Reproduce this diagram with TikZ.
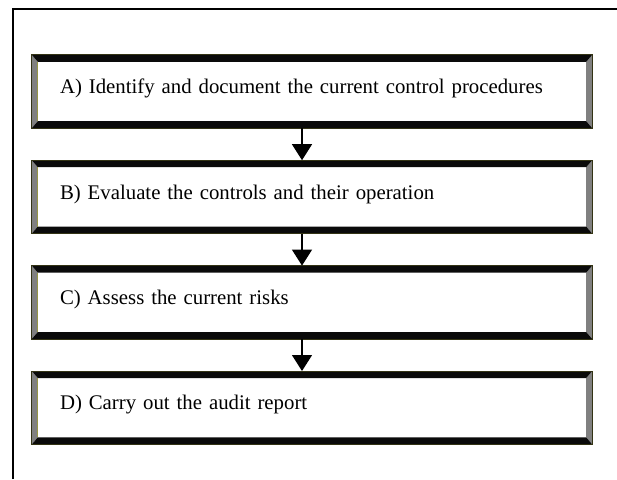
\documentclass[tikz,border=0pt]{standalone}
\usepackage{fontspec}
\setmainfont{Liberation Serif}
\usetikzlibrary{positioning}
\usetikzlibrary{arrows.meta}

\definecolor{bevelgray}{RGB}{128,128,128}
\definecolor{bevelblack}{RGB}{10,10,10}
\definecolor{oliveedge}{RGB}{51,51,20}
\definecolor{oliveline}{RGB}{150,150,70}

\newcommand{\bevelframe}[1]{%
 \fill[bevelgray] (#1.north west) -- ([shift={(6,-7)}]#1.north west) -- ([shift={(6,7)}]#1.south west) -- (#1.south west) -- cycle;
 \fill[bevelgray] (#1.north east) -- ([shift={(-6,-7)}]#1.north east) -- ([shift={(-6,7)}]#1.south east) -- (#1.south east) -- cycle;
 \fill[bevelblack] (#1.north west) -- (#1.north east) -- ([shift={(-6,-7)}]#1.north east) -- ([shift={(6,-7)}]#1.north west) -- cycle;
 \fill[bevelblack] (#1.south west) -- (#1.south east) -- ([shift={(-6,7)}]#1.south east) -- ([shift={(6,7)}]#1.south west) -- cycle;
 \draw[oliveline, line width=1.2] ([shift={(6,-7)}]#1.north west) -- ([shift={(6,7)}]#1.south west);
 \draw[oliveedge, line width=1] (#1.north west) rectangle (#1.south east);
}

\begin{document}
\begin{tikzpicture} [x=1pt, y=1pt, node distance=32pt]
\tikzset{
 stepbox/.style={minimum height=73pt, text width=504pt, inner xsep=28pt, inner ysep=0pt,
   text depth=10pt, align=left, font=\fontsize{20.8}{24}\selectfont},
 flow/.style={line width=1.2, -{Triangle[width=20pt, length=16pt]}}
}
\useasboundingbox (0,0) rectangle (617,-479);
\draw[line width=1.4] (13,-479) -- (13,-9) -- (617,-9);

\node[stepbox] (A) at (312,-91.5) {A) Identify and document the current control procedures};
\node[stepbox, below=of A] (B) {B) Evaluate the controls and their operation};
\node[stepbox, below=of B] (C) {C) Assess the current risks};
\node[stepbox, below=of C] (D) {D) Carry out the audit report};

\foreach \n in {A,B,C,D} {
 \bevelframe{\n}
}
\foreach \u/\v in {A/B, B/C, C/D} {
 \draw[flow] ([xshift=-10pt]\u.south) -- ([xshift=-10pt]\v.north);
}
\end{tikzpicture}
\end{document}
